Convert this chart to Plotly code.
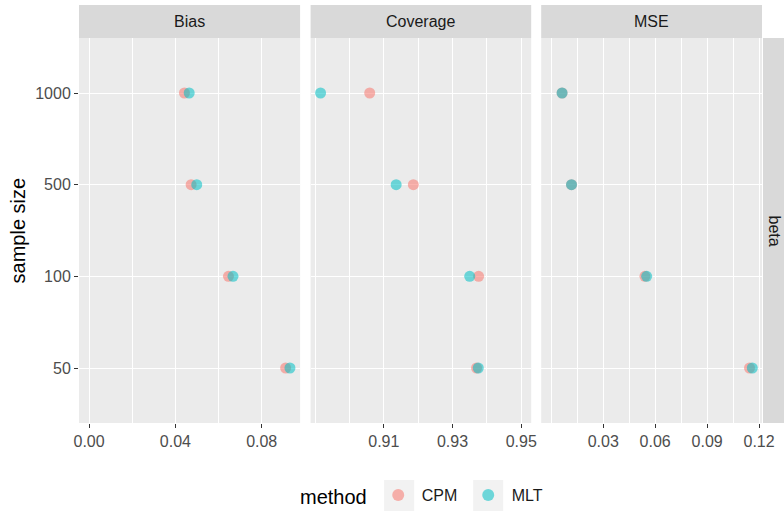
import plotly.graph_objects as go

sizes = ["50", "100", "500", "1000"]
methods = ["CPM", "MLT"]
colors = {"CPM": "#F8766D", "MLT": "#00BFC4"}

bias_cpm = [0.0911, 0.0646, 0.0473, 0.0442]
bias_mlt = [0.0931, 0.0667, 0.0499, 0.0464]
cov_cpm = [0.9370, 0.9376, 0.9186, 0.9059]
cov_mlt = [0.9375, 0.9350, 0.9136, 0.8916]
mse_cpm = [0.1145, 0.0541, 0.0117, 0.00625]
mse_mlt = [0.1161, 0.0551, 0.0117, 0.00625]

panels = ["Bias", "Coverage", "MSE"]
data = {
    "Bias": {"CPM": bias_cpm, "MLT": bias_mlt},
    "Coverage": {"CPM": cov_cpm, "MLT": cov_mlt},
    "MSE": {"CPM": mse_cpm, "MLT": mse_mlt},
}

W, H = 784, 512
ml, mt = 79, 38
mr = W - 761.7
mb = H - 423
pw = W - ml - mr
ph = H - mt - mb
domains = [[0, 221 / pw], [231.5 / pw, 452 / pw], [462 / pw, 1]]
xranges = [[-0.00466, 0.0978], [0.8887, 0.9529], [-0.0058, 0.1217]]
tickvals = [[0.0, 0.04, 0.08], [0.91, 0.93, 0.95], [0.03, 0.06, 0.09, 0.12]]
ticktext = [["0.00", "0.04", "0.08"], ["0.91", "0.93", "0.95"], ["0.03", "0.06", "0.09", "0.12"]]
minor_d = [0.02, 0.01, 0.015]

FONT = "Liberation Sans, Arial, sans-serif"


def px_x(sx):
    return (sx - ml) / pw


def px_y(sy):
    return (H - mb - sy) / ph


fig = go.Figure()
for i, p in enumerate(panels):
    xa = "x" if i == 0 else f"x{i+1}"
    for m in methods:
        fig.add_trace(go.Scatter(
            x=data[p][m], y=sizes, mode="markers", xaxis=xa, yaxis="y",
            marker=dict(color=colors[m], size=11, opacity=0.55, line=dict(width=0)),
            name=m, legendgroup=m, showlegend=(i == 0),
        ))

layout = dict(
    width=W, height=H,
    margin=dict(l=ml, r=mr, t=mt, b=mb, autoexpand=False),
    paper_bgcolor="white", plot_bgcolor="#EBEBEB",
    font=dict(family=FONT, color="#4D4D4D", size=16),
    showlegend=True,
    legend=dict(orientation="h", xref="container", yref="container",
                x=298 / W, xanchor="left", y=1 - 496 / H, yanchor="middle",
                title=dict(text="method", font=dict(size=20, color="#000000"), side="left"),
                font=dict(size=16, color="#1A1A1A"), itemsizing="constant",
                itemwidth=37, entrywidth=38, entrywidthmode="pixels",
                bgcolor="rgba(0,0,0,0)"),
    yaxis=dict(type="category", categoryorder="array", categoryarray=sizes,
               range=[-0.6, 3.6], showgrid=True, gridcolor="white", gridwidth=1.4,
               ticks="outside", ticklen=4, tickcolor="#333333", zeroline=False,
               automargin=False,
               tickfont=dict(size=16, color="#4D4D4D"), anchor="x"),
)
for i in range(3):
    key = "xaxis" if i == 0 else f"xaxis{i+1}"
    layout[key] = dict(
        domain=domains[i], range=xranges[i], anchor="y",
        tickvals=tickvals[i], ticktext=ticktext[i],
        showgrid=True, gridcolor="white", gridwidth=1.4, zeroline=False,
        ticks="outside", ticklen=4, tickcolor="#333333", automargin=False,
        tickfont=dict(size=16, color="#4D4D4D"),
        minor=dict(dtick=minor_d[i], tick0=0, showgrid=True,
                   gridcolor="white", gridwidth=0.7, ticks=""),
    )
fig.update_layout(**layout)

shapes = []
annotations = []
strip_h = 33 / ph
for i, p in enumerate(panels):
    shapes.append(dict(type="rect", xref="paper", yref="paper",
                       x0=domains[i][0], x1=domains[i][1], y0=1, y1=1 + strip_h,
                       fillcolor="#D9D9D9", line=dict(width=0), layer="below"))
    annotations.append(dict(text=p, xref="paper", yref="paper",
                            x=(domains[i][0] + domains[i][1]) / 2, y=1 + strip_h / 2,
                            xanchor="center", yanchor="middle", showarrow=False,
                            font=dict(size=16, color="#1A1A1A")))
shapes.append(dict(type="rect", xref="paper", yref="paper",
                   x0=1 + 1 / pw, x1=1 + 22.3 / pw, y0=0, y1=1,
                   fillcolor="#D9D9D9", line=dict(width=0), layer="below"))
annotations.append(dict(text="beta", xref="paper", yref="paper",
                        x=1 + 12 / pw, y=0.5, textangle=90,
                        xanchor="center", yanchor="middle", showarrow=False,
                        font=dict(size=16, color="#1A1A1A")))
annotations.append(dict(text="sample size", xref="paper", yref="paper",
                        x=px_x(18), y=0.5, textangle=-90,
                        xanchor="center", yanchor="middle", showarrow=False,
                        font=dict(size=20, color="#000000")))
# legend key backgrounds (screen px)
for sx0 in (384, 473):
    shapes.append(dict(type="rect", xref="paper", yref="paper",
                       x0=px_x(sx0), x1=px_x(sx0 + 30),
                       y0=px_y(511), y1=px_y(480),
                       fillcolor="#F2F2F2", line=dict(width=0), layer="below"))
fig.update_layout(shapes=shapes, annotations=annotations)

fig.write_html("out.html",
               config={"displayModeBar": False},
               post_script="document.body.style.margin='0';"
                           "document.body.style.overflow='hidden';")
